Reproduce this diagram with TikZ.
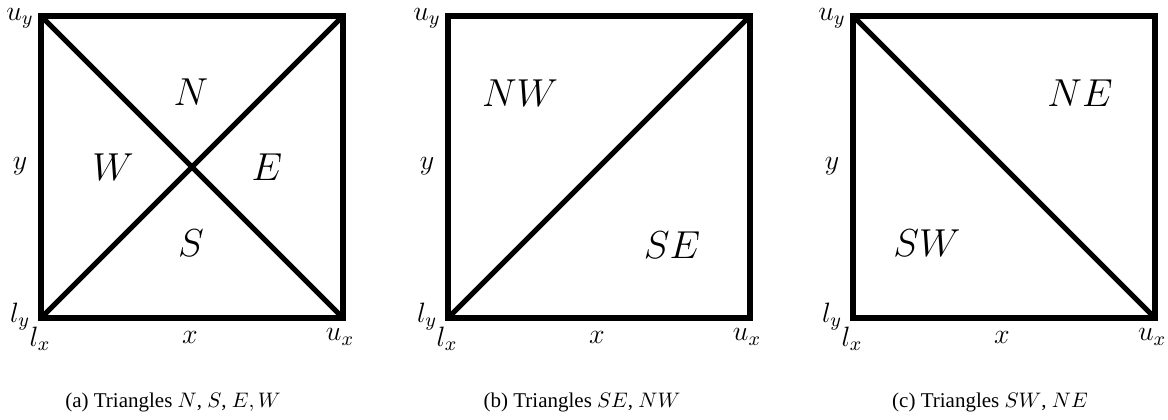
\RequirePackage{fix-cm}
\documentclass[tikz,border=0pt]{standalone}
\usepackage{amsmath}
\usepackage[no-math]{fontspec}
\setmainfont{Liberation Serif}
\usetikzlibrary{positioning}

\begin{document}
\begin{tikzpicture}[
  x=0.5pt, y=-0.5pt,
  edge/.style={draw=black, line width=2.6pt},
  region/.style={font=\fontsize{19.5}{22}\selectfont, inner sep=0pt},
  bound/.style={font=\fontsize{14}{16}\selectfont, inner sep=0pt},
  capt/.style={font=\fontsize{10.5}{12}\selectfont, inner sep=0pt}
]
\useasboundingbox (0,0) rectangle (1168,419);

%% Panel (a) — four triangles
\begin{scope}[shift={(41,16)}]
  \coordinate (a-ul) at (0,0);
  \coordinate (a-ur) at (302,0);
  \coordinate (a-lr) at (302,302);
  \coordinate (a-ll) at (0,302);
  \draw[edge] (a-ll) -- (a-lr) -- (a-ur) -- (a-ul) -- cycle;
  \draw[edge] (a-ll) -- (a-ur);
  \draw[edge] (a-ul) -- (a-lr);
  \node[bound] (a-uy) at (-21,2)   {$u_y$};
  \node[bound] (a-ly) at (-21,301) {$l_y$};
  \node[bound] (a-lx) at (-1,323)  {$l_x$};
  \node[bound] (a-x)  at (149,321) {$x$};
  \node[bound] (a-ux) at (299,321) {$u_x$};
  \node[bound] (a-y)  at (-21,150) {$y$};
  \node[region] (aN) at (150,76)  {$N$};
  \node[region] (aW) at (72,151)  {$W$};
  \node[region] (aE) at (226,151) {$E$};
  \node[region] (aS) at (150,227) {$S$};
  \node[capt] (a-cap) at (132,386) {(a) Triangles $N$, $S$, $E, W$};
\end{scope}

%% Panel (b) — SE / NW
\begin{scope}[shift={(448,16)}]
  \coordinate (b-ul) at (0,0);
  \coordinate (b-ur) at (302,0);
  \coordinate (b-lr) at (302,302);
  \coordinate (b-ll) at (0,302);
  \draw[edge] (b-ll) -- (b-lr) -- (b-ur) -- (b-ul) -- cycle;
  \draw[edge] (b-ll) -- (b-ur);
  \node[bound] (b-uy) at (-21,2)   {$u_y$};
  \node[bound] (b-ly) at (-21,301) {$l_y$};
  \node[bound] (b-lx) at (-1,323)  {$l_x$};
  \node[bound] (b-x)  at (149,321) {$x$};
  \node[bound] (b-ux) at (299,321) {$u_x$};
  \node[bound] (b-y)  at (-21,150) {$y$};
  \node[region] (bNW) at (72,77)  {$NW$};
  \node[region] (bSE) at (224,229) {$SE$};
  \node[capt] (b-cap) at (134,386) {(b) Triangles $SE$, $NW$};
\end{scope}

%% Panel (c) — SW / NE
\begin{scope}[shift={(853,16)}]
  \coordinate (c-ul) at (0,0);
  \coordinate (c-ur) at (302,0);
  \coordinate (c-lr) at (302,302);
  \coordinate (c-ll) at (0,302);
  \draw[edge] (c-ll) -- (c-lr) -- (c-ur) -- (c-ul) -- cycle;
  \draw[edge] (c-ul) -- (c-lr);
  \node[bound] (c-uy) at (-21,2)   {$u_y$};
  \node[bound] (c-ly) at (-21,301) {$l_y$};
  \node[bound] (c-lx) at (-1,323)  {$l_x$};
  \node[bound] (c-x)  at (149,321) {$x$};
  \node[bound] (c-ux) at (299,321) {$u_x$};
  \node[bound] (c-y)  at (-21,150) {$y$};
  \node[region] (cNE) at (227,77)  {$NE$};
  \node[region] (cSW) at (74,227)  {$SW$};
  \node[capt] (c-cap) at (137,386) {(c) Triangles $SW$, $NE$};
\end{scope}

\end{tikzpicture}
\end{document}
